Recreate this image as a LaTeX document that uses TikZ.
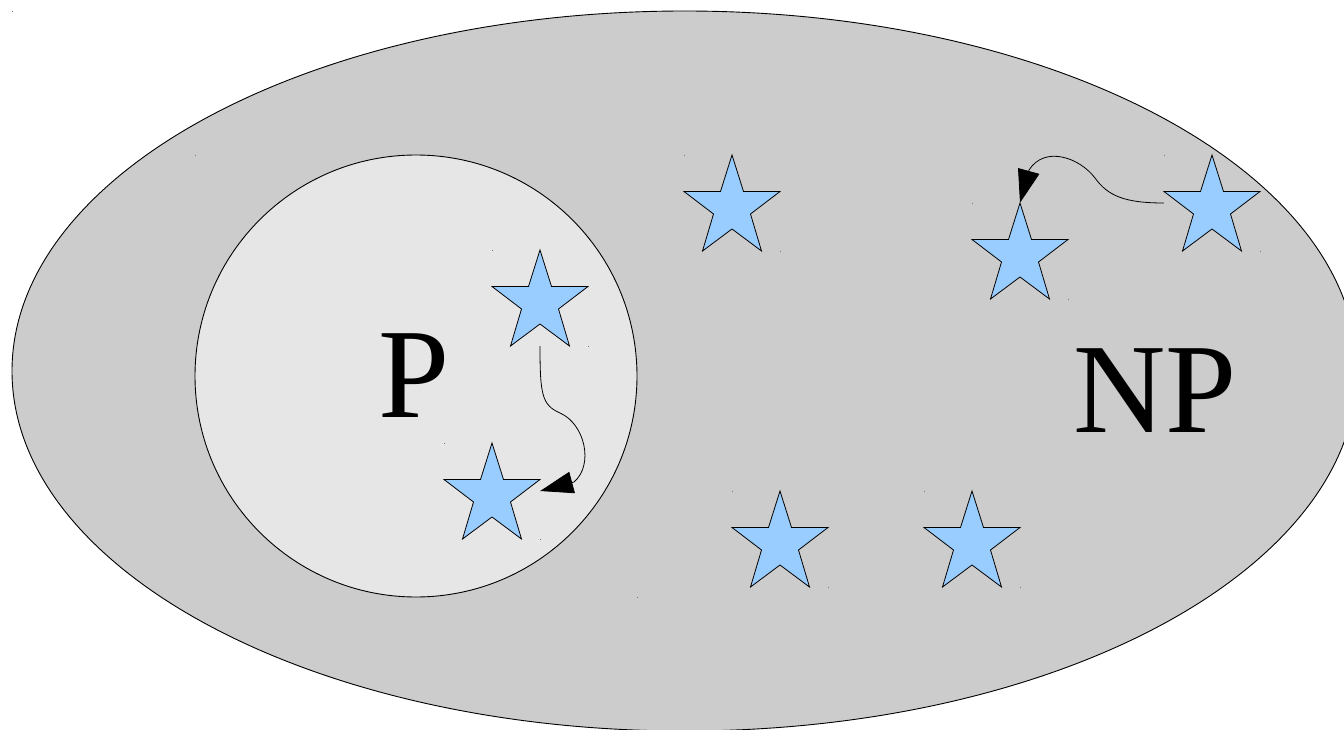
\documentclass[tikz,border=0pt]{standalone}
\usepackage{fontspec}
\setmainfont{Liberation Serif}
\usetikzlibrary{arrows.meta}
\definecolor{outerfill}{HTML}{CCCCCC}
\definecolor{innerfill}{HTML}{E6E6E6}
\definecolor{starfill}{HTML}{99CCFF}
\newcommand\mystar[3]{%
  \node[starbox] (#1) at (#2+48,#3+48) {};
  \draw[starline] (#2+48,#3) -- (#2+59.5,#3+36.5) -- (#2+96,#3+36.5) -- (#2+66.5,#3+59)
    -- (#2+77.5,#3+96) -- (#2+48,#3+74) -- (#2+18.5,#3+96) -- (#2+29.5,#3+59)
    -- (#2,#3+36.5) -- (#2+36.5,#3+36.5) -- cycle;
  \fill[speck] (#2,#3) rectangle ++(1,1);
  \fill[speck] (#2+96,#3+96) rectangle ++(1,1);
}
\begin{document}
\begin{tikzpicture}[x=1pt,y=-1pt,
  setline/.style={draw=black, line width=0.9pt},
  starbox/.style={rectangle, minimum width=96pt, minimum height=96pt, inner sep=0pt},
  starline/.style={draw=black, line width=0.8pt, fill=starfill, line join=miter},
  conn/.style={draw=black, line width=0.8pt, -{Triangle[length=33pt,width=22pt]}},
  glyph/.style={font=\fontsize{128}{128}\selectfont, anchor=base, inner sep=0pt},
  speck/.style={fill=black!55}]
\useasboundingbox (0,0) rectangle (1344,730);
\clip (0,0) rectangle (1344,730);
\fill[white] (0,0) rectangle (1344,730);
\draw[setline, fill=outerfill] (684.6,371) ellipse [x radius=672.6pt, y radius=360pt];
\fill[speck] (12,11) rectangle ++(1,1);
\draw[setline, fill=innerfill] (416,376) circle [radius=221pt];
\fill[speck] (195,155) rectangle ++(1,1);
\fill[speck] (637,597) rectangle ++(1,1);
\node[glyph] (P) at (414,417) {P};
\node[glyph] (NP) at (1155,432) {NP};
\mystar{s1}{492}{250}
\mystar{s2}{444}{443}
\mystar{s3}{684}{155}
\mystar{s4}{972}{203}
\mystar{s5}{1164}{155}
\mystar{s6}{732}{491}
\mystar{s7}{924}{491}
\draw[conn] (s1.south) .. controls (540,395) and (542,405) .. (560,413)
  .. controls (585,424) and (594,465) .. (574,482) -- (s2.east);
\draw[conn] (s5.west) .. controls (1125,203) and (1108,196) .. (1095,178)
  .. controls (1080,158) and (1045,145) .. (1029,170) -- (s4.north);
\end{tikzpicture}
\end{document}
